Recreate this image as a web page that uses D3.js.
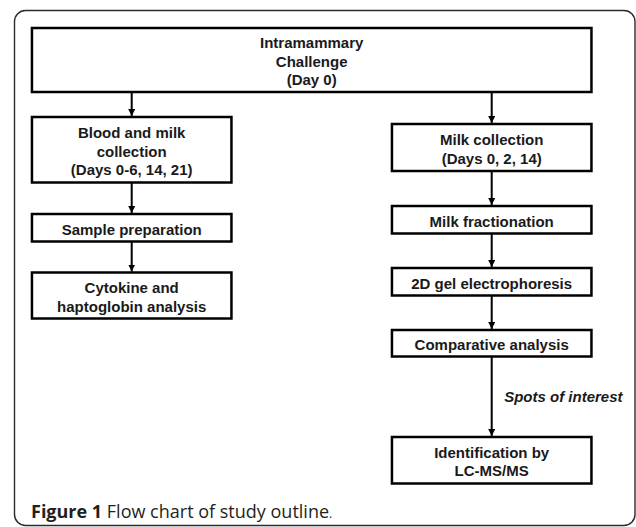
<!DOCTYPE html>
<html>
<head>
<meta charset="utf-8">
<script src="https://cdn.jsdelivr.net/npm/d3@7"></script>
<style>
  body { margin: 0; background: #fff; }
</style>
</head>
<body>
<div id="chart"></div>
<script>
// flow chart content
const boxLabels = [
  ["Intramammary", "Challenge", "(Day 0)"],
  ["Blood and milk", "collection", "(Days 0-6, 14, 21)"],
  ["Sample preparation"],
  ["Cytokine and", "haptoglobin analysis"],
  ["Milk collection", "(Days 0, 2, 14)"],
  ["Milk fractionation"],
  ["2D gel electrophoresis"],
  ["Comparative analysis"],
  ["Identification by", "LC-MS/MS"]
];
const boxColumns = ["both", "left", "left", "left", "right", "right", "right", "right", "right"];
const links = [[0, 1], [1, 2], [2, 3], [0, 4], [4, 5], [5, 6], [6, 7], [7, 8]];
const linkLabels = ["", "", "", "", "", "", "", "Spots of interest"];
const captionBold = "Figure 1";
const captionText = " Flow chart of study outline";

// layout (pixels)
const boxTop = [28, 117, 214, 272.5, 124, 206, 268, 330, 437];
const boxBottom = [92, 182.5, 241.5, 318.5, 171, 233.5, 295.5, 356.5, 483.5];

const w = 636;
const h = 527;
const boxW = 199.5;
const lineH = 18.5;

const svg = d3.select("#chart")
  .append("svg")
  .attr("width", w)
  .attr("height", h);

const xCol = d3.scalePoint()
  .domain(["left", "right"])
  .range([131.7, 491.7]);

const yPos = d3.scaleLinear().domain([0, h]).range([0, h]);

const boxX0 = (i) => boxColumns[i] === "both" ? xCol("left") - boxW / 2 : xCol(boxColumns[i]) - boxW / 2;
const boxX1 = (i) => boxColumns[i] === "both" ? xCol("right") + boxW / 2 : xCol(boxColumns[i]) + boxW / 2;

// outer frame
svg.append("rect")
  .attr("x", 14.5)
  .attr("y", 10.5)
  .attr("width", 620.5)
  .attr("height", 515)
  .attr("rx", 11)
  .attr("fill", "none")
  .attr("stroke", "#2b2b2b")
  .attr("stroke-width", 1.4);

svg.append("defs").append("marker")
  .attr("id", "arrow")
  .attr("markerUnits", "userSpaceOnUse")
  .attr("markerWidth", 8)
  .attr("markerHeight", 8)
  .attr("refX", 7)
  .attr("refY", 3.5)
  .attr("orient", "auto")
  .append("path")
  .attr("d", "M0,0L7,3.5L0,7Z")
  .attr("fill", "#000");

// arrows
svg.selectAll("line.link")
  .data(links)
  .enter()
  .append("line")
  .attr("class", "link")
  .attr("x1", d => xCol(boxColumns[d[1]]))
  .attr("x2", d => xCol(boxColumns[d[1]]))
  .attr("y1", d => yPos(boxBottom[d[0]]))
  .attr("y2", d => yPos(boxTop[d[1]]) - 1)
  .attr("stroke", "#000")
  .attr("stroke-width", 2)
  .attr("marker-end", "url(#arrow)");

svg.selectAll("text.linklabel")
  .data(links)
  .enter()
  .append("text")
  .attr("class", "linklabel")
  .attr("x", d => xCol(boxColumns[d[1]]) + 12.5)
  .attr("y", d => yPos((boxBottom[d[0]] + boxTop[d[1]]) / 2))
  .attr("dy", "0.35em")
  .attr("font-family", "'Liberation Sans', Arial, sans-serif")
  .attr("font-weight", "bold")
  .attr("font-style", "italic")
  .attr("font-size", 15)
  .attr("fill", "#1a1a1a")
  .text((d, i) => linkLabels[i]);

// boxes
const boxes = svg.selectAll("g.box")
  .data(boxLabels)
  .enter()
  .append("g")
  .attr("class", "box");

boxes.append("rect")
  .attr("x", (d, i) => boxX0(i))
  .attr("y", (d, i) => yPos(boxTop[i]))
  .attr("width", (d, i) => boxX1(i) - boxX0(i))
  .attr("height", (d, i) => yPos(boxBottom[i]) - yPos(boxTop[i]))
  .attr("fill", "#fff")
  .attr("stroke", "#000")
  .attr("stroke-width", 2.5);

boxes.each(function (d, i) {
  const cx = (boxX0(i) + boxX1(i)) / 2;
  const cy = yPos((boxTop[i] + boxBottom[i]) / 2) + 1.5;
  const t = d3.select(this).append("text")
    .attr("text-anchor", "middle")
    .attr("font-family", "'Liberation Sans', Arial, sans-serif")
    .attr("font-weight", "bold")
    .attr("font-size", 15)
    .attr("fill", "#1a1a1a");
  d.forEach((line, j) => {
    t.append("tspan")
      .attr("x", cx)
      .attr("y", cy + (j - (d.length - 1) / 2) * lineH)
      .attr("dy", "0.35em")
      .text(line);
  });
});

// caption
const cap = svg.append("text")
  .attr("x", 31)
  .attr("y", 518)
  .attr("font-family", "'Open Sans', 'Noto Sans', sans-serif")
  .attr("font-size", 18)
  .attr("fill", "#231f20");
cap.append("tspan").attr("font-weight", "bold").text(captionBold);
cap.append("tspan").text(captionText);
cap.append("tspan").attr("font-size", 12).text(".");
</script>
</body>
</html>
